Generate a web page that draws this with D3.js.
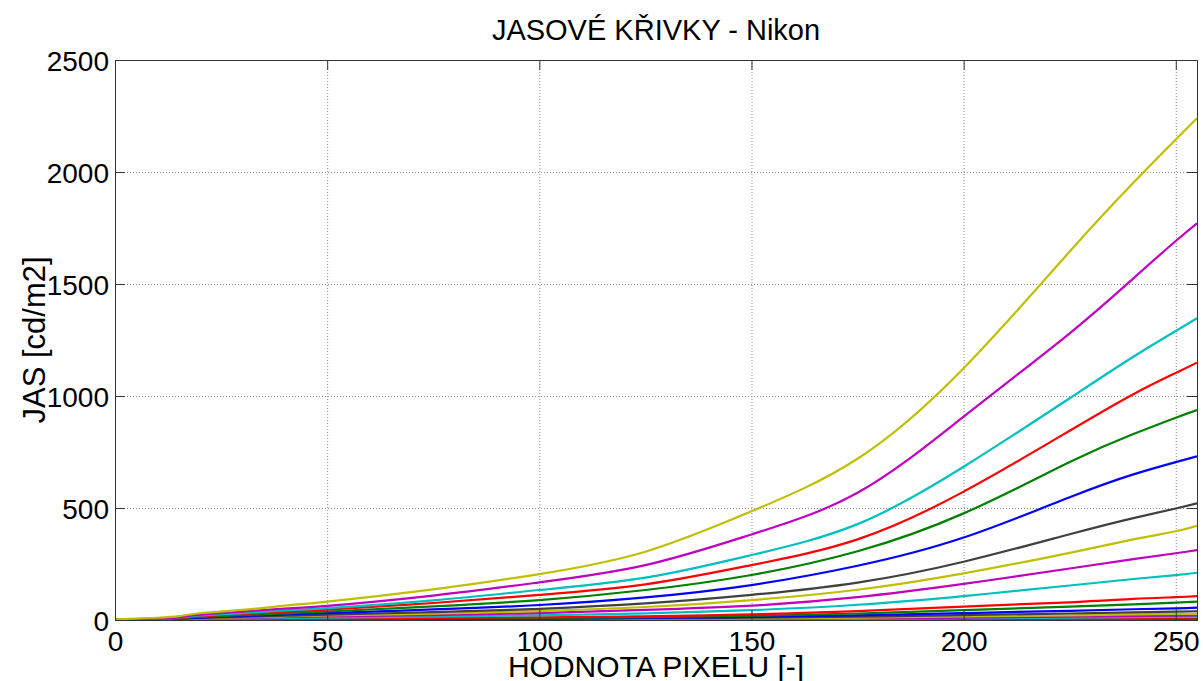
<!DOCTYPE html>
<html>
<head>
<meta charset="utf-8">
<script src="https://cdn.jsdelivr.net/npm/d3@7"></script>
<style>
  html, body { margin: 0; padding: 0; background: #fff; }
  svg { display: block; font-family: "Liberation Sans", Arial, Helvetica, sans-serif; }
</style>
</head>
<body>
<svg id="chart" width="1203" height="681"></svg>
<script>
// Pixel values at which each luminance curve is sampled
const pixelValues = [0, 10, 15, 20, 30, 40, 50, 75, 100, 125, 150, 175, 200, 225, 240, 250, 255];

// Luminance curves [cd/m2], in plotting order (lowest exposure first)
const curve01 = [0, 0, 0, 0, 0, 0, 0, 0, 0, 1, 1, 1, 2, 2, 3, 3, 3];
const curve02 = [0, 0, 0, 0, 0, 0, 0, 1, 1, 1, 2, 2, 3, 4, 5, 6, 6];
const curve03 = [0, 0, 0, 0, 0, 1, 1, 1, 1, 2, 3, 4, 6, 8, 9, 10, 10];
const curve04 = [0, 0, 0, 0, 1, 1, 1, 1, 2, 3, 4, 5, 8, 11, 13, 14, 14];
const curve05 = [0, 0, 0, 1, 1, 1, 1, 2, 3, 4, 5, 8, 11, 15, 18, 19, 20];
const curve06 = [0, 0, 0, 1, 1, 2, 2, 3, 4, 5, 7, 11, 16, 21, 25, 27, 28];
const curve07 = [0, 0, 0, 1, 2, 2, 3, 4, 5, 7, 10, 15, 22, 29, 34, 37, 39];
const curve08 = [0, 0, 1, 2, 2, 3, 4, 5, 7, 10, 14, 21, 31, 41, 48, 52, 55];
const curve09 = [0, 0, 1, 2, 3, 4, 5, 7, 9, 13, 19, 29, 44, 60, 70, 78, 82];
const curve10 = [0, 1, 1, 3, 4, 5, 6, 9, 12, 16, 25, 40, 60, 79, 94, 102, 107];
const curve11 = [0, 1, 2, 5, 7, 9, 11, 15, 21, 30, 44, 68, 107, 154, 183, 200, 211];
const curve12 = [0, 1, 3, 7, 10, 13, 16, 22, 31, 45, 64, 102, 161, 230, 272, 298, 312];
const curve13 = [1, 2, 4, 8, 12, 16, 20, 28, 40, 58, 89, 135, 208, 300, 360, 396, 420];
const curve14 = [1, 2, 5, 9, 14, 19, 24, 35, 50, 74, 112, 167, 260, 383, 455, 498, 521];
const curve15 = [1, 3, 6, 11, 18, 25, 31, 47, 67, 101, 156, 242, 368, 548, 650, 705, 731];
const curve16 = [1, 3, 7, 14, 22, 30, 38, 61, 89, 134, 201, 307, 476, 705, 830, 903, 937];
const curve17 = [1, 4, 8, 17, 27, 37, 46, 76, 112, 159, 245, 360, 573, 845, 1008, 1103, 1149];
const curve18 = [1, 5, 10, 20, 31, 43, 53, 88, 134, 189, 290, 428, 684, 990, 1175, 1290, 1347];
const curve19 = [2, 6, 12, 24, 37, 51, 63, 109, 168, 245, 382, 568, 908, 1280, 1525, 1692, 1771];
const curve20 = [3, 10, 17, 30, 45, 64, 82, 137, 205, 305, 485, 720, 1124, 1645, 1952, 2145, 2240];

const curves = [curve01, curve02, curve03, curve04, curve05, curve06, curve07, curve08, curve09, curve10,
                curve11, curve12, curve13, curve14, curve15, curve16, curve17, curve18, curve19, curve20];

// Default line colour order (b, g, r, c, m, y, k)
const colorOrder = ["#0000ff", "#008000", "#ff0000", "#00bfbf", "#bf00bf", "#bfbf00", "#404040"];

const xTicks = [0, 50, 100, 150, 200, 250];
const yTicks = [0, 500, 1000, 1500, 2000, 2500];

const titleText = "JASOVÉ KŘIVKY - Nikon";
const xLabelText = "HODNOTA PIXELU [-]";
const yLabelText = "JAS [cd/m2]";

// Plot area
const plotLeft = 115, plotRight = 1197, plotTop = 60, plotBottom = 620;

const svg = d3.select("#chart");

const x = d3.scaleLinear().domain([0, 255]).range([plotLeft, plotRight]);
const y = d3.scaleLinear().domain([0, 2500]).range([plotBottom, plotTop]);

// Dotted grid
const grid = svg.append("g").attr("class", "grid");
grid.selectAll("line.gx").data(xTicks.filter(d => d > 0)).join("line")
  .attr("x1", d => x(d) + 0.5).attr("x2", d => x(d) + 0.5)
  .attr("y1", plotTop).attr("y2", plotBottom)
  .attr("stroke", "#8c8c8c").attr("stroke-width", 1).attr("stroke-dasharray", "1,2");
grid.selectAll("line.gy").data(yTicks.filter(d => d > 0 && d < 2500)).join("line")
  .attr("x1", plotLeft).attr("x2", plotRight)
  .attr("y1", d => y(d) + 0.5).attr("y2", d => y(d) + 0.5)
  .attr("stroke", "#8c8c8c").attr("stroke-width", 1).attr("stroke-dasharray", "1,2");

// Curves
svg.append("defs").append("clipPath").attr("id", "plotClip")
  .append("rect").attr("x", plotLeft).attr("y", plotTop)
  .attr("width", plotRight - plotLeft).attr("height", plotBottom - plotTop);

const line = d3.line()
  .x((d, i) => x(pixelValues[i]))
  .y(d => y(d))
  .curve(d3.curveNatural);

svg.append("g").attr("clip-path", "url(#plotClip)")
  .selectAll("path").data(curves).join("path")
  .attr("d", line)
  .attr("fill", "none")
  .attr("stroke", (d, i) => colorOrder[i % colorOrder.length])
  .attr("stroke-width", 2.2)
  .attr("stroke-linejoin", "round");

// Axes with inward ticks on all four sides
const tickLen = 10;
const axisColor = "#333";
const fontSize = 28;

const axB = svg.append("g").attr("transform", `translate(0,${plotBottom})`)
  .call(d3.axisBottom(x).tickValues(xTicks).tickSize(-tickLen).tickPadding(11).tickFormat(d3.format("d")));
const axT = svg.append("g").attr("transform", `translate(0,${plotTop})`)
  .call(d3.axisTop(x).tickValues(xTicks).tickSize(-tickLen).tickFormat(""));
const axL = svg.append("g").attr("transform", `translate(${plotLeft},0)`)
  .call(d3.axisLeft(y).tickValues(yTicks).tickSize(-tickLen).tickPadding(6).tickFormat(d3.format("d")));
const axR = svg.append("g").attr("transform", `translate(${plotRight},0)`)
  .call(d3.axisRight(y).tickValues(yTicks).tickSize(-tickLen).tickFormat(""));

[axB, axT, axL, axR].forEach(a => {
  a.select(".domain").attr("stroke", axisColor).attr("stroke-width", 1);
  a.selectAll(".tick line").attr("stroke", axisColor);
  a.selectAll("text").attr("fill", "#000").attr("font-size", fontSize)
    .attr("font-family", "'Liberation Sans', Arial, sans-serif");
});
axB.selectAll(".tick text").attr("dy", "0.72em");
axL.selectAll(".tick text").attr("dy", "0.36em");

// Title and axis labels
svg.append("text")
  .attr("x", (plotLeft + plotRight) / 2).attr("y", 40)
  .attr("text-anchor", "middle").attr("font-size", 29).attr("fill", "#000")
  .text(titleText);

svg.append("text")
  .attr("x", (plotLeft + plotRight) / 2).attr("y", 677)
  .attr("text-anchor", "middle").attr("font-size", 30).attr("fill", "#000")
  .text(xLabelText);

svg.append("text")
  .attr("transform", `translate(45,${(plotTop + plotBottom) / 2}) rotate(-90)`)
  .attr("text-anchor", "middle").attr("font-size", 31).attr("fill", "#000")
  .text(yLabelText);
</script>
</body>
</html>
